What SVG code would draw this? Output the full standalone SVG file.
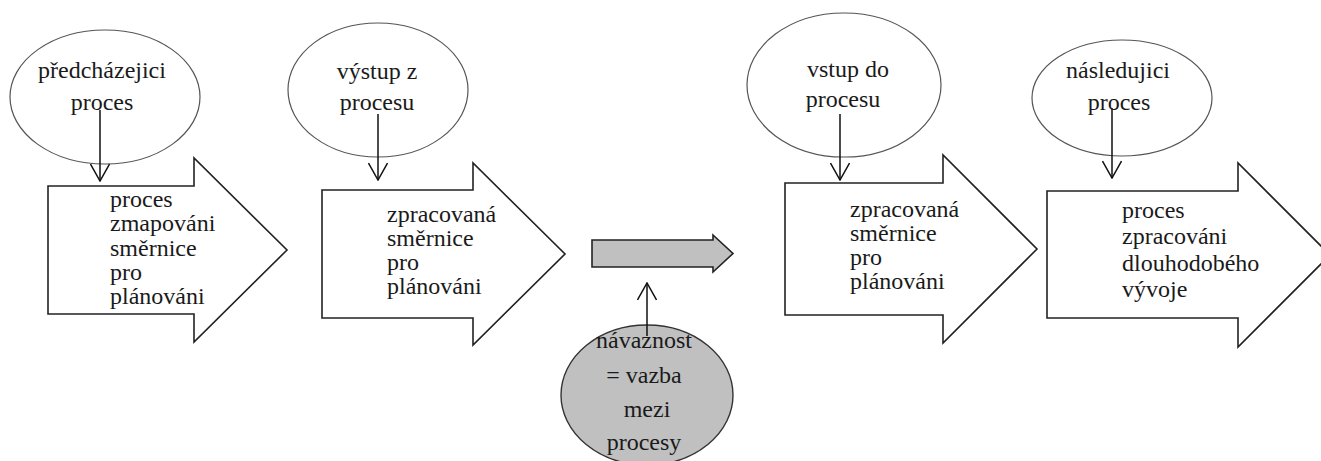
<svg xmlns="http://www.w3.org/2000/svg" width="1321" height="461" viewBox="0 0 1321 461">
  <style>
    .bg { fill: #ffffff; }
    .oval { fill: #ffffff; stroke: #555555; stroke-width: 1.2; }
    .oval-grey { fill: #c0c0c0; stroke: #333333; stroke-width: 1.4; }
    .block { fill: #ffffff; stroke: #222222; stroke-width: 1.6; }
    .block-grey { fill: #c0c0c0; stroke: #222222; stroke-width: 1.6; }
    .link { fill: none; stroke: #111111; stroke-width: 1.5; }
    .label { font-family: 'Times New Roman', 'Liberation Serif', serif; font-size: 24px; fill: #1a1a1a; }
    .mid { text-anchor: middle; }
  </style>
  <defs>
    <marker id="open-head" viewBox="0 0 20 20" refX="19" refY="10" markerWidth="20" markerHeight="20" markerUnits="userSpaceOnUse" orient="auto">
      <path d="M2,0.5 L19,10 L2,19.5" fill="none" stroke="#111111" stroke-width="1.5"/>
    </marker>
  </defs>

  <rect class="bg" x="0" y="0" width="1321" height="461"/>

  <!-- block arrows -->
  <g id="arrow-mapping">
    <path class="block" d="M48,186 L194,186 L194,158 L287,250 L194,342 L194,314 L48,314 Z"/>
    <text class="label" font-family="Times New Roman" x="110" y="207">proces</text>
    <text class="label" font-family="Times New Roman" x="110" y="231">zmapováni</text>
    <text class="label" font-family="Times New Roman" x="110" y="256">směrnice</text>
    <text class="label" font-family="Times New Roman" x="110" y="280">pro</text>
    <text class="label" font-family="Times New Roman" x="110" y="304">plánováni</text>
  </g>

  <g id="arrow-output">
    <path class="block" d="M322,190 L473,190 L473,163 L565,254 L473,345 L473,318 L322,318 Z"/>
    <text class="label" font-family="Times New Roman" x="387" y="222">zpracovaná</text>
    <text class="label" font-family="Times New Roman" x="387" y="246">směrnice</text>
    <text class="label" font-family="Times New Roman" x="387" y="270">pro</text>
    <text class="label" font-family="Times New Roman" x="387" y="294">plánováni</text>
  </g>

  <g id="arrow-link">
    <path class="block-grey" d="M592,240 L713,240 L713,235 L733,253.5 L713,272 L713,267 L592,267 Z"/>
  </g>

  <g id="arrow-input">
    <path class="block" d="M785,183 L943,183 L943,155 L1037,249 L943,343 L943,315 L785,315 Z"/>
    <text class="label" font-family="Times New Roman" x="850" y="217">zpracovaná</text>
    <text class="label" font-family="Times New Roman" x="850" y="241">směrnice</text>
    <text class="label" font-family="Times New Roman" x="850" y="265">pro</text>
    <text class="label" font-family="Times New Roman" x="850" y="289">plánováni</text>
  </g>

  <g id="arrow-next">
    <path class="block" d="M1047,191 L1238,191 L1238,163 L1330,255 L1238,347 L1238,318 L1047,318 Z"/>
    <text class="label" font-family="Times New Roman" x="1122" y="218">proces</text>
    <text class="label" font-family="Times New Roman" x="1122" y="244">zpracováni</text>
    <text class="label" font-family="Times New Roman" x="1122" y="271">dlouhodobého</text>
    <text class="label" font-family="Times New Roman" x="1122" y="297">vývoje</text>
  </g>

  <!-- ovals -->
  <g id="oval-previous">
    <ellipse class="oval" cx="105" cy="97" rx="95" ry="67"/>
    <text class="label mid" font-family="Times New Roman" x="102" y="78">předcházejici</text>
    <text class="label mid" font-family="Times New Roman" x="102" y="110">proces</text>
  </g>

  <g id="oval-output">
    <ellipse class="oval" cx="378" cy="90" rx="90" ry="67"/>
    <text class="label mid" font-family="Times New Roman" x="377" y="79">výstup z</text>
    <text class="label mid" font-family="Times New Roman" x="377" y="110">procesu</text>
  </g>

  <g id="oval-input">
    <ellipse class="oval" cx="844" cy="85" rx="97" ry="72"/>
    <text class="label mid" font-family="Times New Roman" x="848" y="77">vstup do</text>
    <text class="label mid" font-family="Times New Roman" x="843" y="107">procesu</text>
  </g>

  <g id="oval-next">
    <ellipse class="oval" cx="1122" cy="98" rx="90" ry="58"/>
    <text class="label mid" font-family="Times New Roman" x="1118" y="78">následujici</text>
    <text class="label mid" font-family="Times New Roman" x="1119" y="110">proces</text>
  </g>

  <g id="oval-link">
    <ellipse class="oval-grey" cx="647" cy="395" rx="86" ry="70"/>
    <text class="label mid" font-family="Times New Roman" x="644" y="348">návaznost</text>
    <text class="label mid" font-family="Times New Roman" x="644" y="383">= vazba</text>
    <text class="label mid" font-family="Times New Roman" x="647" y="417">mezi</text>
    <text class="label mid" font-family="Times New Roman" x="644" y="450">procesy</text>
  </g>

  <!-- connectors -->
  <g id="connectors">
    <line class="link" x1="100" y1="110" x2="100" y2="181" marker-end="url(#open-head)"/>
    <line class="link" x1="378" y1="114" x2="378" y2="180" marker-end="url(#open-head)"/>
    <line class="link" x1="840" y1="114" x2="840" y2="180" marker-end="url(#open-head)"/>
    <line class="link" x1="1112" y1="108" x2="1112" y2="178" marker-end="url(#open-head)"/>
    <line class="link" x1="647" y1="336" x2="647" y2="283" marker-end="url(#open-head)"/>
  </g>
</svg>
